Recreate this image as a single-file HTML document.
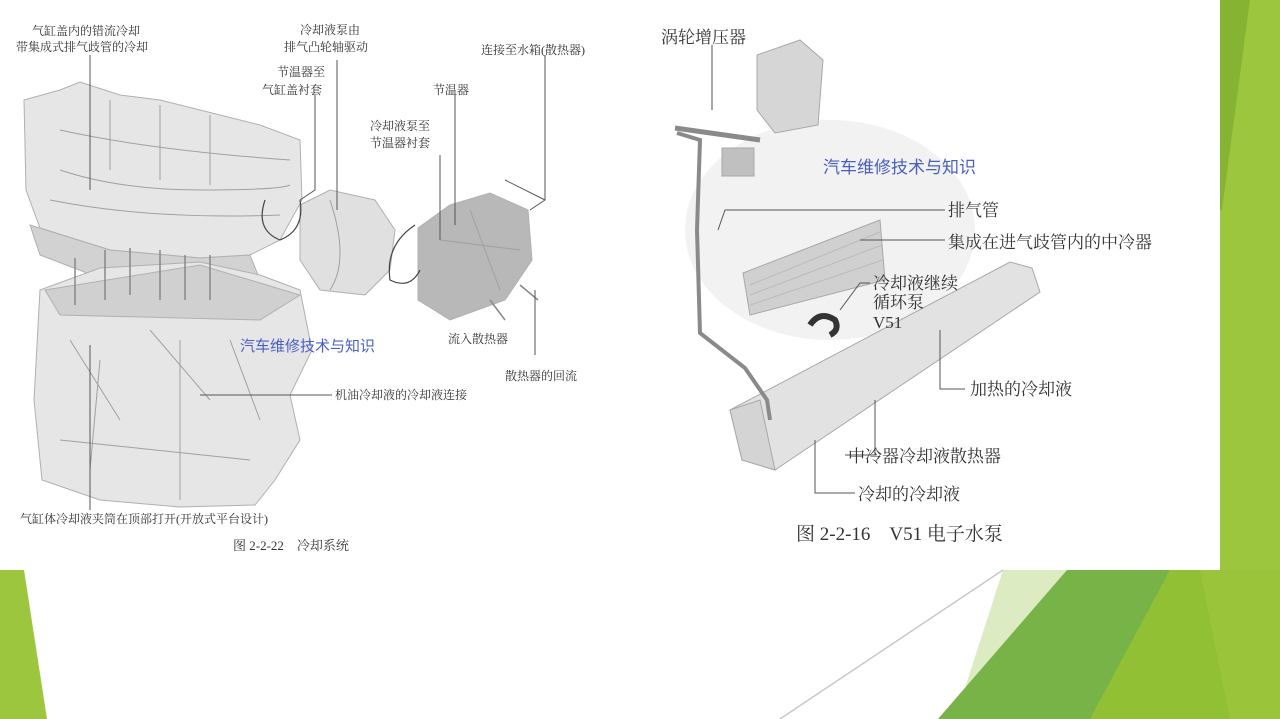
<!DOCTYPE html>
<html><head><meta charset="utf-8"><style>
html,body{margin:0;padding:0}
body{width:1280px;height:719px;overflow:hidden;background:#fff;font-family:"Liberation Serif","Noto Serif CJK SC",serif}
svg{position:absolute;left:0;top:0}
.t{font-family:"Liberation Serif","Noto Serif CJK SC",serif;fill:#333}
text{white-space:pre}
</style></head><body>
<svg width="1280" height="719" viewBox="0 0 1280 719">
<rect width="1280" height="719" fill="#fff"/>
<rect x="1220" y="0" width="60" height="570" fill="#9cc63d"/>
<polygon points="1220,0 1250,0 1222,210 1220,210" fill="#86b432"/>
<polygon points="0,570 24,570 47,719 0,719" fill="#9cc63d"/>
<polygon points="1003,570 1067,570 975,719 955,719" fill="#dcebc2"/>
<polygon points="1067,570 1170,570 1095,719 938,719" fill="#78b348"/>
<polygon points="1170,570 1280,570 1280,719 1090,719" fill="#92c034"/>
<polygon points="1200,570 1280,570 1280,719 1230,719" fill="#9ac53a"/>
<line x1="1003" y1="570" x2="780" y2="719" stroke="#c8c8c8" stroke-width="1.5"/>

<g fill="#e6e6e6" stroke="#b0b0b0" stroke-width="1">
<polygon points="24,100 60,90 80,82 120,95 160,100 220,115 260,125 300,140 302,200 280,240 250,255 200,258 110,250 40,228 26,190"/>
<polygon points="30,225 110,250 200,258 250,255 258,275 200,290 100,278 40,255" fill="#d2d2d2"/>
<polygon points="300,205 330,190 375,200 395,230 390,270 365,295 320,290 300,260" fill="#e0e0e0"/>
<polygon points="418,228 450,205 490,193 528,210 532,260 505,300 450,320 418,300" fill="#b8b8b8"/>
<polygon points="40,290 100,268 200,262 260,275 300,290 312,350 290,395 300,440 275,480 255,505 180,507 100,500 42,480 34,400"/>
<polygon points="45,290 200,265 300,295 260,320 60,315" fill="#d0d0d0"/>
</g>
<g stroke="#a0a0a0" stroke-width="1" fill="none">
<path d="M60,170 Q120,190 200,190 T290,185"/><path d="M50,200 Q150,220 280,215"/>
<path d="M60,130 Q150,150 290,160"/><path d="M110,100 L110,170 M160,105 L160,180 M210,115 L210,185"/>
<path d="M70,340 L120,420 M150,330 L210,400 M230,340 L260,420 M100,360 L90,470 M60,440 L250,460 M180,340 L180,500"/>
<path d="M330,200 Q350,260 330,290 M470,210 L500,290 M440,240 L520,250"/>
</g>
<g stroke="#444" stroke-width="1.2" fill="none">
<path d="M265,200 q-10,30 15,40 q25,-10 20,-40"/>
<path d="M415,225 q-30,20 -25,55 q20,10 30,-10"/>
</g>
<g stroke="#888" stroke-width="1.5">
<line x1="75" y1="305" x2="75" y2="258"/><line x1="105" y1="300" x2="105" y2="250"/><line x1="130" y1="295" x2="130" y2="248"/><line x1="160" y1="300" x2="160" y2="250"/><line x1="185" y1="300" x2="185" y2="255"/><line x1="210" y1="300" x2="210" y2="255"/>
<line x1="490" y1="300" x2="505" y2="320"/><line x1="520" y1="285" x2="538" y2="300"/>
</g>
<g stroke="#555" stroke-width="1" fill="none">
<line x1="90" y1="55" x2="90" y2="190"/>
<line x1="90" y1="345" x2="90" y2="510"/>
<polyline points="315,95 315,190 300,200"/>
<line x1="337" y1="60" x2="337" y2="210"/>
<polyline points="440,155 440,240"/>
<polyline points="455,95 455,225"/>
<polyline points="545,55 545,200 530,210"/>
<line x1="545" y1="200" x2="505" y2="180"/>
<line x1="332" y1="395" x2="200" y2="395"/>
<line x1="535" y1="290" x2="535" y2="355"/>
</g>
<g class="t" font-size="12">
<text x="32" y="35">气缸盖内的错流冷却</text>
<text x="16" y="51">带集成式排气歧管的冷却</text>
<text x="300" y="34">冷却液泵由</text>
<text x="284" y="51">排气凸轮轴驱动</text>
<text x="277" y="76">节温器至</text>
<text x="262" y="94">气缸盖衬套</text>
<text x="481" y="54">连接至水箱(散热器)</text>
<text x="433" y="94">节温器</text>
<text x="370" y="130">冷却液泵至</text>
<text x="370" y="147">节温器衬套</text>
<text x="448" y="343">流入散热器</text>
<text x="505" y="380">散热器的回流</text>
<text x="335" y="399">机油冷却液的冷却液连接</text>
<text x="20" y="523">气缸体冷却液夹筒在顶部打开(开放式平台设计)</text>
<text x="233" y="550" font-size="13">图 2-2-22    冷却系统</text>
</g>
<text x="240" y="351" font-size="15" fill="#4a5fc0" font-family="Liberation Sans,Noto Sans CJK SC,sans-serif">汽车维修技术与知识</text>

<ellipse cx="830" cy="230" rx="145" ry="110" fill="#f2f2f2"/>
<g fill="#e4e4e4" stroke="#a8a8a8" stroke-width="1">
<polygon points="743,273 880,220 885,280 750,315" fill="#d0d0d0"/>
<polygon points="757,55 800,40 823,60 818,125 775,133 757,110" fill="#d6d6d6"/>
<rect x="722" y="148" width="32" height="28" fill="#c0c0c0"/>
<polygon points="730,410 1010,262 1032,268 1040,292 775,470 742,460" fill="#e2e2e2"/>
<polygon points="730,410 760,400 775,470 742,460" fill="#d4d4d4"/>
</g>
<g stroke="#bbb" stroke-width="1">
<line x1="750" y1="285" x2="880" y2="232"/><line x1="750" y1="295" x2="882" y2="245"/><line x1="750" y1="305" x2="883" y2="260"/>
</g>
<g stroke="#8a8a8a" stroke-width="4" fill="none">
<path d="M677,133 L700,140 L697,230 L700,333 L745,368 L767,400 L770,420"/>
<path d="M675,128 L760,140" stroke-width="5"/>
</g>
<path d="M810,325 q10,-15 25,-5 q5,10 -5,15" stroke="#333" stroke-width="6" fill="none"/>
<g stroke="#555" stroke-width="1" fill="none">
<polyline points="712,45 712,110"/>
<polyline points="945,210 725,210 718,230"/>
<line x1="945" y1="240" x2="860" y2="240"/>
<polyline points="870,283 860,283 840,310"/>
<polyline points="965,389 940,389 940,330"/>
<polyline points="845,455 875,455 875,400"/>
<polyline points="855,493 815,493 815,440"/>
</g>
<g class="t" font-size="17">
<text x="661" y="43">涡轮增压器</text>
<text x="948" y="216">排气管</text>
<text x="948" y="248">集成在进气歧管内的中冷器</text>
<text x="873" y="289">冷却液继续</text>
<text x="873" y="308">循环泵</text>
<text x="873" y="328">V51</text>
<text x="970" y="395">加热的冷却液</text>
<text x="848" y="462">中冷器冷却液散热器</text>
<text x="858" y="500">冷却的冷却液</text>
<text x="796" y="540" font-size="19">图 2-2-16    V51 电子水泵</text>
</g>
<text x="823" y="173" font-size="17" fill="#4a5fc0" font-family="Liberation Sans,Noto Sans CJK SC,sans-serif">汽车维修技术与知识</text>
</svg>
</body></html>
